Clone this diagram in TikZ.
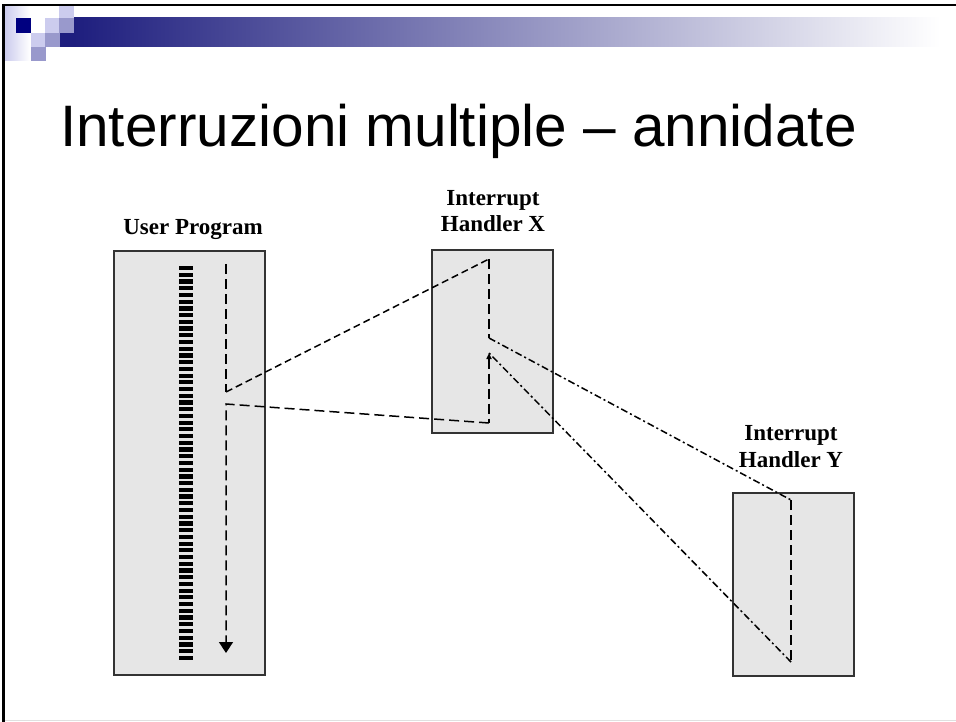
\documentclass[tikz,border=0pt]{standalone}
\usepackage{fontspec}
\setmainfont{Liberation Serif}
\newfontfamily\slidefont{Liberation Sans}
\usetikzlibrary{positioning, arrows.meta}

\definecolor{slidenavy}{HTML}{000080}
\definecolor{slidelight}{HTML}{CCCCEE}
\definecolor{slidemid}{HTML}{9999CC}
\definecolor{barnavy}{HTML}{1E1E7E}
\definecolor{boxgray}{HTML}{E6E6E6}
\definecolor{boxline}{HTML}{333333}

\tikzset{
    codebox/.style={draw=boxline, line width=1.6pt, fill=boxgray, minimum width=121pt, minimum height=183pt, anchor=north west, inner sep=0pt},
    boxlabel/.style={font=\bfseries\fontsize{23}{26.5}\selectfont, align=center, anchor=base, inner sep=0pt},
    flow/.style={line width=1.5pt, dash pattern=on 10pt off 5pt},
    jump/.style={line width=1.5pt, dash pattern=on 7pt off 4pt},
    nest/.style={line width=1.5pt, dash pattern=on 7pt off 3pt on 2pt off 3pt}
}

\begin{document}
\begin{tikzpicture}[x=1pt, y=-1pt]
        \useasboundingbox (0,0) rectangle (956,722);

        % slide header
        \shade[left color=slidelight, right color=white] (5,6) rectangle (30,61);
        \fill[slidenavy] (16,18) rectangle (31,33);
        \fill[slidelight] (31,33) rectangle (45,47);
        \fill[slidemid] (31,47) rectangle (46,61);
        \fill[slidelight] (45,18) rectangle (59,33);
        \fill[slidemid] (45,33) rectangle (60,47);
        \fill[slidemid] (59,18) rectangle (74,33);
        \fill[slidelight] (59,6) rectangle (74,18);
        \fill[barnavy] (60,33) rectangle (74.5,47);
        \shade[left color=barnavy, right color=white] (74,18) rectangle (940,47);
        \draw[line width=2.5pt] (3.7,722) -- (3.7,5) -- (956,5);
        \draw[black!12, line width=1.5pt] (5,720.5) -- (956,720.5);

        \node[anchor=base west, inner sep=0pt, font=\slidefont\fontsize{58.5}{70}\selectfont] (heading) at (60,147) {Interruzioni multiple – annidate};

        % programs
        \node[codebox, minimum width=151pt, minimum height=424pt] (user) at (113,250) {};
        \node[codebox] (hx) at (431,249) {};
        \node[codebox] (hy) at (732,492) {};
        \node[boxlabel] (userlbl) at (193,235) {User Program};
        \node[boxlabel] (hxlbl) at (493,232) {Interrupt\\Handler X};
        \node[boxlabel] (hylbl) at (791,467) {Interrupt\\Handler Y};

        \foreach \i in {0,...,58}
            \fill (179,266+6.72*\i) rectangle +(14,4.2);

        % control flow
        \coordinate (u1) at (226,264);
        \coordinate (u2) at (226,392);
        \coordinate (u3) at (226,404);
        \coordinate (u4) at (226,653);
        \coordinate (x1) at (489,259);
        \coordinate (x2) at (489,338);
        \coordinate (x3) at (489,353);
        \coordinate (x4) at (489,423);
        \coordinate (y1) at (791,500);
        \coordinate (y2) at (791,662);

        \draw[flow] (u1) -- (u2);
        \draw[jump] (u2) -- (x1);
        \draw[flow] (x1) -- (x2);
        \draw[nest] (x2) -- (y1);
        \draw[flow] (y1) -- (y2);
        \draw[nest] (y2) -- (x3);
        \draw[flow, {Triangle[length=6pt, width=5pt]}-] (x3) -- (x4);
        \draw[flow, -{Triangle[length=11pt, width=14pt]}] (x4) -- (u3) -- (u4);
\end{tikzpicture}
\end{document}
